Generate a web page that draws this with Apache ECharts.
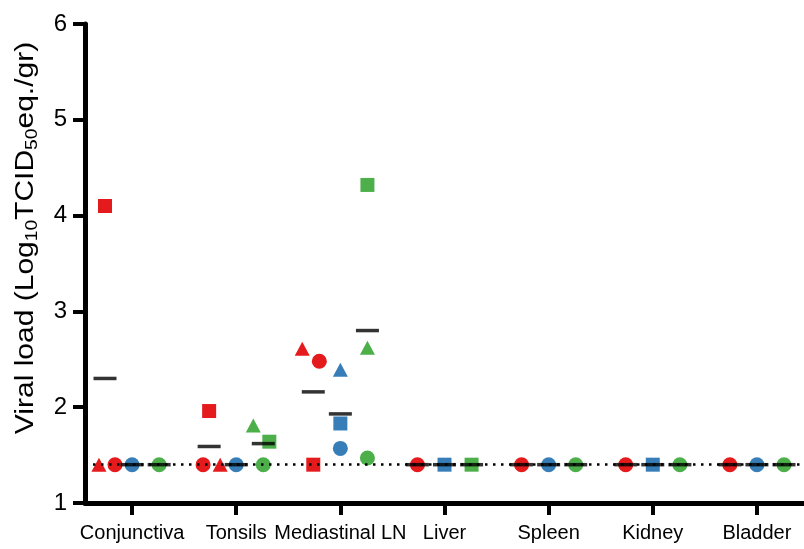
<!DOCTYPE html>
<html><head><meta charset="utf-8">
<script src="https://cdn.jsdelivr.net/npm/echarts@6/dist/echarts.min.js"></script>
<style>html,body{margin:0;padding:0;background:#fff}#c{width:804px;height:549px}</style>
</head><body><div id="c"></div>
<script>
// ---- data ----
const tissues = ['Conjunctiva', 'Tonsils', 'Mediastinal LN', 'Liver', 'Spleen', 'Kidney', 'Bladder'];
const yTicks = [1, 2, 3, 4, 5, 6];
const detectionLimit = 1.4;
// per animal (marker shape) values, Log10 TCID50 eq./gr; null = not visible (hidden under another mark)
const redTriangle   = [1.4, 1.4, 2.61, null, null, null, null];
const redCircle     = [1.4, 1.4, 2.48, 1.4, 1.4, 1.4, 1.4];
const redSquare     = [4.10, 1.96, 1.4, null, null, null, null];
const blueTriangle  = [null, null, 2.39, null, null, null, null];
const blueCircle    = [1.4, 1.4, 1.57, null, 1.4, null, 1.4];
const blueSquare    = [null, null, 1.83, 1.4, null, 1.4, null];
const greenTriangle = [null, 1.81, 2.62, null, null, null, null];
const greenCircle   = [1.4, 1.4, 1.47, null, 1.4, 1.4, 1.4];
const greenSquare   = [null, 1.64, 4.32, 1.4, null, null, null];
const redMean   = [2.30, 1.59, 2.16, 1.4, 1.4, 1.4, 1.4];
const blueMean  = [1.4, 1.4, 1.93, 1.4, 1.4, 1.4, 1.4];
const greenMean = [1.4, 1.62, 2.80, 1.4, 1.4, 1.4, 1.4];

// ---- layout (not data) ----
const colors = ['#E41A1C', '#377EB8', '#4DAF4A'];
const groupOffset = [-0.26, 0, 0.26];        // category units
// horizontal swarm shift per group -> [triangle, circle, square] per tissue (category units)
const swarm = [
  [[-0.058, 0.106, -0.106, 0, 0, 0, 0], [0.096, -0.058, 0.058, 0, 0, 0, 0], [0, 0, 0, 0, 0, 0, 0]],
  [[0, 0, 0, 0, 0, 0, 0], [0, 0, 0, 0, 0, 0, 0], [0, 0, 0, 0, 0, 0, 0]],
  [[0, -0.096, 0, 0, 0, 0, 0], [0, 0, 0, 0, 0, 0, 0], [0, 0.058, 0, 0, 0, 0, 0]]
];
const shapes = [
  {symbol: 'triangle', size: [15, 14]},
  {symbol: 'circle', size: 15},
  {symbol: 'rect', size: 14}
];
const groups = [
  [redTriangle, redCircle, redSquare],
  [blueTriangle, blueCircle, blueSquare],
  [greenTriangle, greenCircle, greenSquare]
];
const means = [redMean, blueMean, greenMean];
const FONT = '"Liberation Sans", Arial, sans-serif';

const series = [];
series.push({
  type: 'line', data: [], z: 1, silent: true,
  markLine: {
    silent: true, symbol: ['none', 'none'], label: {show: false},
    lineStyle: {color: '#000', width: 2.5, type: [2.5, 5.5]},
    data: [{yAxis: detectionLimit}]
  }
});
groups.forEach((animals, g) => {
  const data = [];
  tissues.forEach((t, i) => {
    animals.forEach((vals, s) => {
      if (vals[i] == null) return;
      data.push({
        value: [i + groupOffset[g] + swarm[g][s][i], vals[i]],
        symbol: shapes[s].symbol, symbolSize: shapes[s].size
      });
    });
  });
  series.push({type: 'scatter', z: 3, data, itemStyle: {color: colors[g], opacity: 1}, emphasis: {disabled: true}});
});
means.forEach((m, g) => {
  series.push({
    type: 'scatter', z: 5, symbol: 'rect', symbolSize: [23, 3.5],
    itemStyle: {color: '#000'}, emphasis: {disabled: true},
    data: m.map((v, i) => [i + groupOffset[g], v])
  });
});

const chart = echarts.init(document.getElementById('c'), null, {renderer: 'canvas'});
chart.setOption({
  backgroundColor: '#fff',
  animation: false,
  grid: {left: 85, top: 24, width: 719, height: 479, containLabel: false, outerBoundsMode: 'none'},
  xAxis: {
    type: 'value', min: -0.452, max: 6.452,
    splitLine: {show: false},
    axisLine: {show: true, onZero: false, lineStyle: {color: '#000', width: 5}},
    axisTick: {show: true, customValues: tissues.map((t, i) => i), length: 12, lineStyle: {color: '#000', width: 4}},
    axisLabel: {customValues: tissues.map((t, i) => i), formatter: v => tissues[Math.round(v)] || '',
      fontSize: 20, color: '#000', margin: 20, fontFamily: FONT}
  },
  yAxis: {
    type: 'value', min: yTicks[0], max: yTicks[yTicks.length - 1], interval: 1,
    splitLine: {show: false},
    axisLine: {show: true, onZero: false, lineStyle: {color: '#000', width: 5}},
    axisTick: {show: true, length: 12, lineStyle: {color: '#000', width: 4}},
    axisLabel: {fontSize: 24, color: '#000', margin: 18, fontFamily: FONT}
  },
  graphic: [{
    type: 'text', x: 26, y: 238, rotation: Math.PI / 2, scaleX: 1.2, scaleY: 1,
    style: {
      text: '{n|Viral load (Log}{s|10}{n|TCID}{s|50}{n|eq./gr)}',
      align: 'center', verticalAlign: 'middle', fill: '#000',
      rich: {
        n: {fontSize: 25, lineHeight: 29, verticalAlign: 'middle', fontFamily: FONT, fill: '#000'},
        s: {fontSize: 16, lineHeight: 16, verticalAlign: 'bottom', fontFamily: FONT, fill: '#000'}
      }
    }
  }],
  series
});
</script></body></html>
